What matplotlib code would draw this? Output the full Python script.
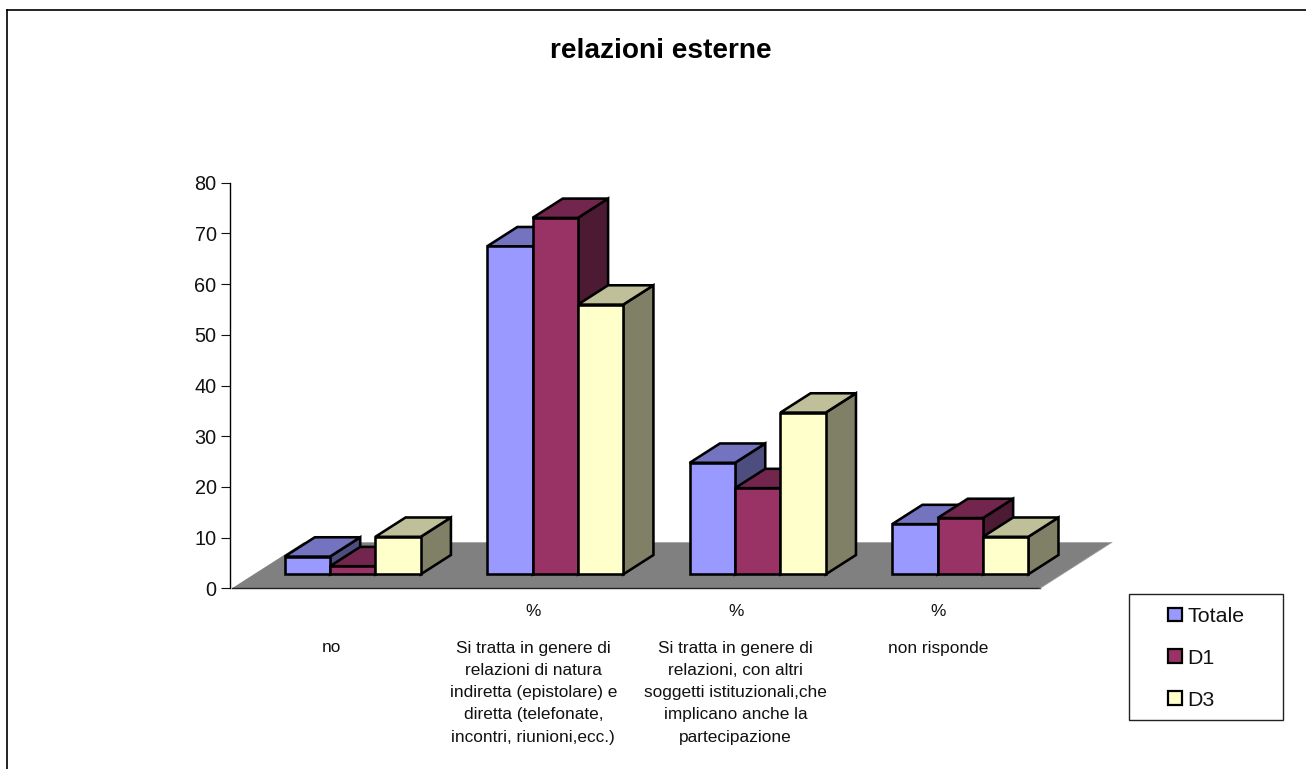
import matplotlib
matplotlib.use("Agg")
import matplotlib.pyplot as plt
from matplotlib.colors import to_rgb
from matplotlib.patches import Polygon, Rectangle

plt.rcParams["font.family"] = ["Liberation Sans", "DejaVu Sans"]

# Survey data
categories = [
    "no",
    "Si tratta in genere di\nrelazioni di natura\nindiretta (epistolare) e\ndiretta (telefonate,\nincontri, riunioni,ecc.)",
    "Si tratta in genere di\nrelazioni, con altri\nsoggetti istituzionali,che\nimplicano anche la\npartecipazione",
    "non risponde",
]
unit_labels = ["", "%", "%", "%"]
series_names = ["Totale", "D1", "D3"]
totale = [3.5, 64.7, 22.0, 9.9]
d1 = [1.6, 70.3, 17.0, 11.1]
d3 = [7.4, 53.2, 31.9, 7.4]
series_values = [totale, d1, d3]
series_colors = ["#9999FF", "#993366", "#FFFFCC"]
y_ticks = [0, 10, 20, 30, 40, 50, 60, 70, 80]

W, H = 1306, 769
DPI = 100
fig = plt.figure(figsize=(W / DPI, H / DPI), dpi=DPI, facecolor="white")


def fig_box(left, top, right, bottom):
    return [left / W, 1 - bottom / H, (right - left) / W, (bottom - top) / H]


ax = fig.add_axes(fig_box(229.7, 182.7, 1040, 588.3))
ax.set_xlim(-0.011, 4)
ax.set_ylim(0, 80)
ax.patch.set_visible(False)
for side in ("top", "right", "bottom"):
    ax.spines[side].set_visible(False)
ax.spines["left"].set_linewidth(1.0)
ax.set_xticks([])
ax.set_yticks(y_ticks)
ax.tick_params(axis="y", length=6.5, width=0.8, labelsize=14.3, pad=3, colors="#111111")

# Oblique projection of the floor depth, in data units
depth_x = 0.356
depth_y = 9.07
bar_w = 0.2245
bar_start = 0.261
group_pitch = 1.0025
bar_near, bar_far = 0.304, 0.724


def shade(color, factor):
    return tuple(c * factor for c in to_rgb(color))


def poly(points, face, z):
    ax.add_patch(Polygon(points, closed=True, facecolor=face, edgecolor="black",
                         linewidth=1.85, joinstyle="miter", zorder=z, clip_on=False))


# Floor of the 3D plot
ax.add_patch(Polygon([(0, 0), (4, 0), (4 + depth_x, depth_y), (depth_x, depth_y)],
                     closed=True, facecolor="#808080", edgecolor="none", zorder=1, clip_on=False))
ax.plot([0, 4], [0, 0], color="#222222", lw=1.0, zorder=1.5, clip_on=False)
ax.plot([4, 4 + depth_x], [0, depth_y], color="#999999", lw=0.6, zorder=1.5, clip_on=False)

base = depth_y * bar_near
dx = depth_x * (bar_far - bar_near)
dy = depth_y * (bar_far - bar_near)

# Bars, drawn left to right so nearer faces overlap the sides behind them
z = 2
for cat in range(len(categories)):
    for s, values in enumerate(series_values):
        color = series_colors[s]
        x0 = cat * group_pitch + bar_start + s * bar_w
        x1 = x0 + bar_w
        top = base + values[cat]
        poly([(x1, base), (x1 + dx, base + dy), (x1 + dx, top + dy), (x1, top)],
             shade(color, 0.5), z)
        poly([(x0, top), (x1, top), (x1 + dx, top + dy), (x0 + dx, top + dy)],
             shade(color, 0.75), z + 0.1)
        poly([(x0, base), (x1, base), (x1, top), (x0, top)], color, z + 0.2)
        z += 1

# Category labels: a unit row, then the wrapped description
for cat, (unit, label) in enumerate(zip(unit_labels, categories)):
    cx = (331 + cat * 202.3) / W
    if unit:
        fig.text(cx, 1 - 612 / H, unit, ha="center", va="center",
                 fontsize=12.4, color="#111111")
    fig.text(cx, 1 - 640.5 / H, label, ha="center", va="top",
             fontsize=12.4, linespacing=1.61, color="#111111")

fig.text(661 / W, 1 - 58.5 / H, "relazioni esterne", ha="center", va="baseline",
         fontsize=20.2, fontweight="bold", color="black")

# Outer chart border: only top and left fall inside the frame
fig.add_artist(plt.Line2D([7 / W, 7 / W], [0, 1 - 9.5 / H], color="#222222", lw=1.4))
fig.add_artist(plt.Line2D([7 / W, 1], [1 - 9.5 / H, 1 - 9.5 / H], color="black", lw=1.2))

# Legend box
fig.add_artist(Rectangle((1128.5 / W, 1 - 719.5 / H), 154.5 / W, 126 / H, transform=fig.transFigure,
                         facecolor="white", edgecolor="#222222", lw=1.0))
for name, color, y_px in zip(series_names, series_colors, [614.5, 656, 698]):
    fig.add_artist(Rectangle((1168.3 / W, 1 - (y_px + 6.7) / H), 13.4 / W, 13.4 / H, transform=fig.transFigure,
                             facecolor=color, edgecolor="black", lw=1.6))
    fig.text(1187 / W, 1 - y_px / H, name, ha="left", va="center_baseline",
             fontsize=15.4, color="#111111")

fig.savefig("out.png", dpi=DPI, facecolor="white")
